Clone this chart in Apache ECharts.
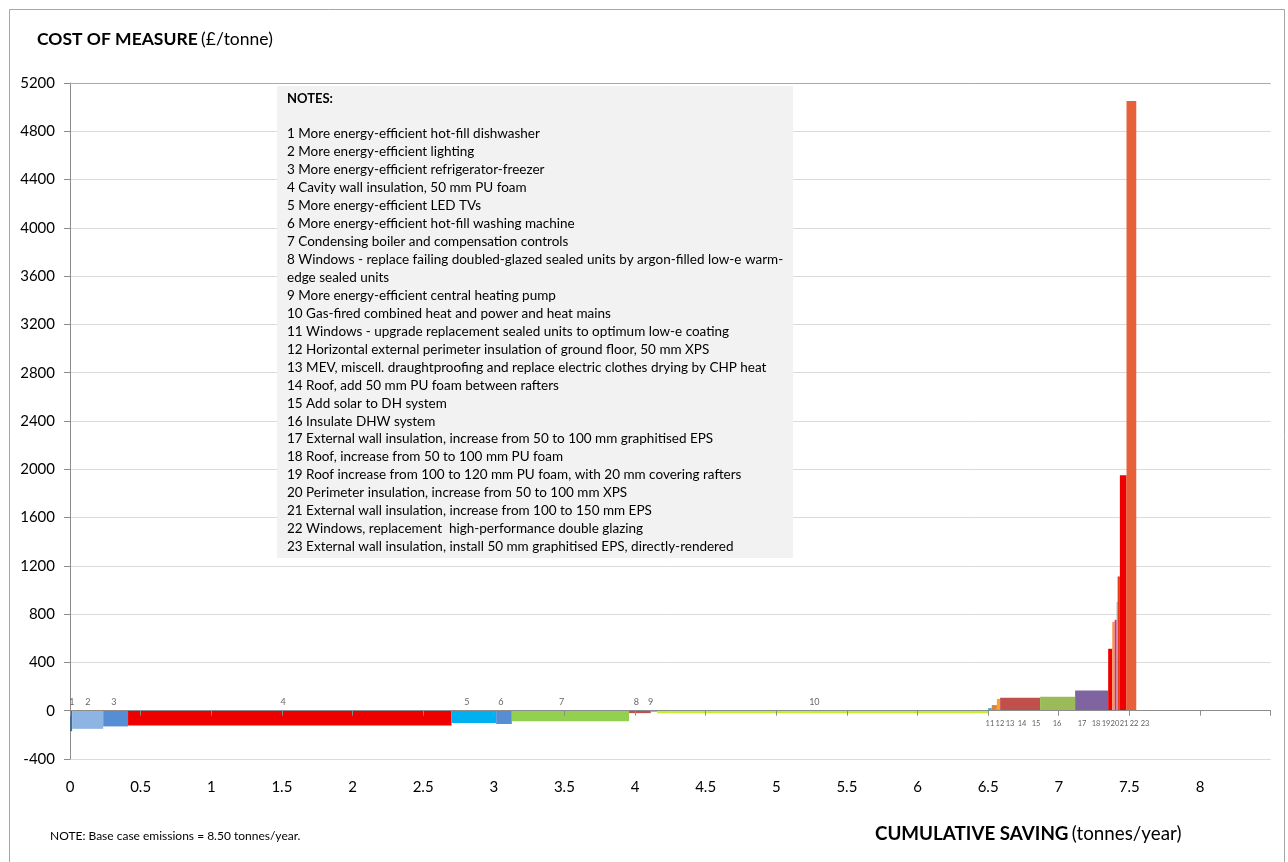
<!DOCTYPE html>
<html><head><meta charset="utf-8">
<script src="https://cdn.jsdelivr.net/npm/echarts@6/dist/echarts.min.js"></script>
<style>html,body{margin:0;padding:0;background:#fff}#c{width:1288px;height:862px}</style>
</head><body><div id="c"></div>
<script>
// Measure numbers
const measures = ['1','2','3','4','5','6','7','8','9','10','11','12','13','14','15','16','17','18','19','20','21','22','23'];
// Saving of each measure (tonnes/year) = bar width
const savings = [0.015,0.22,0.176,2.29,0.316,0.111,0.83,0.154,0.045,2.343,0.026,0.036,0.023,0.283,0.248,0.234,0.029,0.017,0.014,0.007,0.016,0.047,0.069];
// Cost of each measure (£/tonne) = bar height
const costs = [-170,-150,-130,-122,-102,-110,-88,-20,-10,-20,22,47,98,107,115,168,513,736,753,900,1112,1950,5050];
// Where each number label sits along the x axis (tonnes/year)
const labelX = [0.014,0.127,0.311,1.508,2.81,3.05,3.48,4.01,4.11,5.27,6.513,6.584,6.655,6.740,6.839,6.988,7.165,7.264,7.335,7.398,7.462,7.533,7.611];
// Axis ranges / ticks
const xMin = 0, xMax = 8.5, xStep = 0.5;
const yMin = -400, yMax = 5200, yStep = 400;
// Notes text
const notes = [
 '1 More energy-efficient hot-fill dishwasher',
 '2 More energy-efficient lighting',
 '3 More energy-efficient refrigerator-freezer',
 '4 Cavity wall insulation, 50 mm PU foam',
 '5 More energy-efficient LED TVs',
 '6 More energy-efficient hot-fill washing machine',
 '7 Condensing boiler and compensation controls',
 '8 Windows - replace failing doubled-glazed sealed units by argon-filled low-e warm-',
 'edge sealed units',
 '9 More energy-efficient central heating pump',
 '10 Gas-fired combined heat and power and heat mains',
 '11 Windows - upgrade replacement sealed units to optimum low-e coating',
 '12 Horizontal external perimeter insulation of ground floor, 50 mm XPS',
 '13 MEV, miscell. draughtproofing and replace electric clothes drying by CHP heat',
 '14 Roof, add 50 mm PU foam between rafters',
 '15 Add solar to DH system',
 '16 Insulate DHW system',
 '17 External wall insulation, increase from 50 to 100 mm graphitised EPS',
 '18 Roof, increase from 50 to 100 mm PU foam',
 '19 Roof increase from 100 to 120 mm PU foam, with 20 mm covering rafters',
 '20 Perimeter insulation, increase from 50 to 100 mm XPS',
 '21 External wall insulation, increase from 100 to 150 mm EPS',
 '22 Windows, replacement  high-performance double glazing',
 '23 External wall insulation, install 50 mm graphitised EPS, directly-rendered'
];

const colors = ['#4A6C8C','#8EB4E3','#558ED5','#EE0000','#00B0F0','#558ED5','#92D050','#C0504D','#A5B56A','#C4F02A',
  '#4BACC6','#D7843C','#FFA02A','#C0504D','#9BBB59','#8064A2','#EE0000','#F79646','#E0218A','#A6A6A6','#E53C1C','#EE0000','#E8603A'];

let cum = 0;
const barData = savings.map((w, i) => { const s = cum; cum += w; return [s, cum, costs[i], i]; });
const topLabels = [], bottomLabels = [];
measures.forEach((m, i) => { (i < 10 ? topLabels : bottomLabels).push([labelX[i], 0, m]); });

const FONT = 'Lato, "Open Sans", sans-serif';
const chart = echarts.init(document.getElementById('c'), null, {renderer: 'canvas'});
chart.setOption({
  animation: false,
  backgroundColor: '#fff',
  grid: {left: 70, right: 17.4, top: 83, bottom: 103, containLabel: false},
  xAxis: [{
    type: 'value', min: xMin, max: xMax, interval: xStep, z: 5,
    axisLine: {onZero: true, lineStyle: {color: '#8C8C8C', width: 1}},
    axisTick: {show: true, length: 5, lineStyle: {color: '#8C8C8C'}},
    axisLabel: {show: false}, splitLine: {show: false}
  }, {
    type: 'value', min: xMin, max: xMax, interval: xStep, position: 'bottom',
    axisLine: {show: false, onZero: false}, axisTick: {show: false}, splitLine: {show: false},
    axisLabel: {show: true, margin: 21, color: '#000', fontSize: 15, fontFamily: FONT,
      formatter: v => v > 8.01 ? '' : String(v)}
  }],
  yAxis: [{
    type: 'value', min: yMin, max: yMax, interval: yStep, z: 0,
    axisLine: {show: true, onZero: false, lineStyle: {color: '#8C8C8C'}},
    axisTick: {show: true, length: 6, lineStyle: {color: '#8C8C8C'}},
    axisLabel: {color: '#000', fontSize: 15, fontFamily: FONT, margin: 15, formatter: v => String(v)},
    splitLine: {show: true, lineStyle: {color: '#DADADA', width: 1}}
  }],
  graphic: [
    {type: 'rect', z: -10, shape: {x: 9.5, y: 9.5, width: 1275, height: 860}, style: {fill: 'none', stroke: '#A6A6A6', lineWidth: 1}},
    {type: 'rect', z: 10, shape: {x: 277, y: 86, width: 516, height: 472}, style: {fill: '#F2F2F2'}},
    {type: 'text', z: 11, left: 287, top: 92, style: {text: 'NOTES:', font: 'bold 13px ' + FONT, fill: '#000'}},
    {type: 'text', z: 11, left: 287, top: 125, style: {text: notes.join('\n'), font: '13.5px ' + FONT, lineHeight: 17.95, fill: '#000'}},
    {type: 'text', left: 37, top: 30, style: {
      text: '{b|COST OF MEASURE} {n|(£/tonne)}',
      rich: {b: {font: 'bold 17.5px ' + FONT, fill: '#000'}, n: {font: '17.5px ' + FONT, fill: '#000'}}}},
    {type: 'text', left: 875, top: 824, style: {
      text: '{b|CUMULATIVE SAVING} {n|(tonnes/year)}',
      rich: {b: {font: 'bold 18.8px ' + FONT, fill: '#000'}, n: {font: '18.8px ' + FONT, fill: '#000'}}}},
    {type: 'text', left: 50, top: 830, style: {text: 'NOTE: Base case emissions = 8.50 tonnes/year.', font: '12px ' + FONT, fill: '#000'}}
  ],
  series: [{
    type: 'custom', xAxisIndex: 0, yAxisIndex: 0, z: 2,
    renderItem: (params, api) => {
      const p0 = api.coord([api.value(0), 0]);
      const p1 = api.coord([api.value(1), api.value(2)]);
      return {type: 'rect',
        shape: {x: p0[0], y: Math.min(p0[1], p1[1]), width: Math.max(p1[0] - p0[0], 1), height: Math.abs(p1[1] - p0[1])},
        style: {fill: colors[api.value(3)]}};
    },
    encode: {x: [0, 1], y: 2},
    data: barData
  }, {
    type: 'scatter', xAxisIndex: 0, yAxisIndex: 0, symbolSize: 0, z: 6, silent: true,
    data: topLabels,
    label: {show: true, position: 'top', distance: 4, formatter: p => p.data[2], fontSize: 9, color: '#404040', fontFamily: FONT},
    markLine: {silent: true, symbol: 'none', label: {show: false}, lineStyle: {color: '#8DAFD8', type: 'solid', width: 1},
      data: [{yAxis: yMax}]}
  }, {
    type: 'scatter', xAxisIndex: 0, yAxisIndex: 0, symbolSize: 0, z: 6, silent: true,
    data: bottomLabels,
    label: {show: true, position: 'bottom', distance: 9, formatter: p => p.data[2], fontSize: 7.5, color: '#333', fontFamily: FONT}
  }]
});
</script></body></html>
